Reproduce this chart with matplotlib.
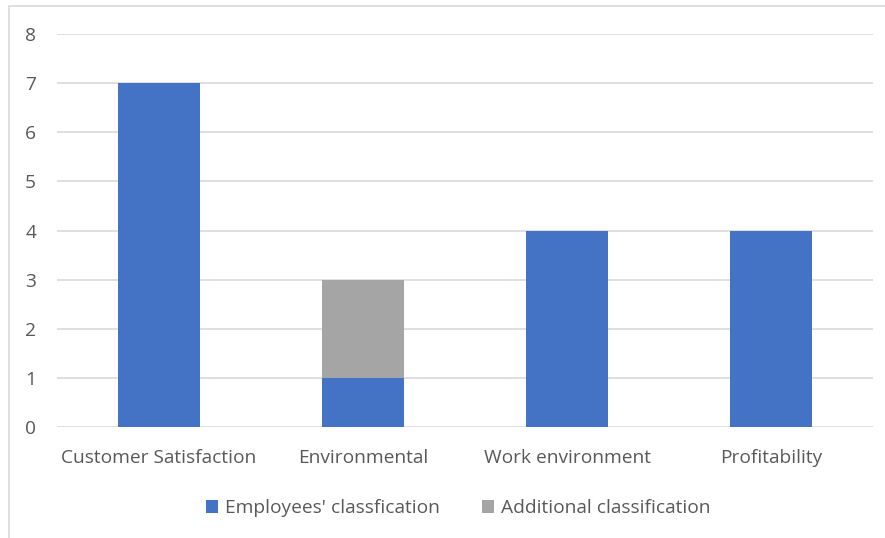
import matplotlib
matplotlib.use("Agg")
import matplotlib.pyplot as plt
from matplotlib.patches import Rectangle
import numpy as np

categories = ["Customer Satisfaction", "Environmental", "Work environment", "Profitability"]
employees = [7, 1, 4, 4]
additional = [0, 2, 0, 0]
yticks = [0, 1, 2, 3, 4, 5, 6, 7, 8]

BLUE = "#4472c4"
GREY = "#a5a5a5"
TXT = "#595959"

plt.rcParams["font.family"] = ["Open Sans", "DejaVu Sans"]

W, H = 885, 538
fig = plt.figure(figsize=(W / 100, H / 100), dpi=100)
fig.patches.append(Rectangle((9 / W, -0.1), 1.2, 1 - 6 / H + 0.1, transform=fig.transFigure,
                             fill=False, edgecolor="#d9d9d9", lw=1.2))
ax = fig.add_axes([57 / W, 1 - 427 / H, (873 - 57) / W, (427 - 34) / H])

x = np.arange(len(categories))
ax.bar(x, employees, width=0.4, color=BLUE, zorder=3, label="Employees' classfication")
ax.bar(x, additional, width=0.4, bottom=employees, color=GREY, zorder=3,
       label="Additional classification")

ax.set_xlim(-0.5, 3.5)
ax.set_ylim(0, 8)
ax.set_yticks(yticks)
ax.set_xticks(x)
ax.set_xticklabels(categories)
ax.yaxis.grid(True, color="#d9d9d9", lw=1.2, zorder=0)
for s in ax.spines.values():
    s.set_visible(False)
ax.tick_params(length=0, labelsize=13.8, colors=TXT)
ax.tick_params(axis="y", pad=15)
ax.tick_params(axis="x", pad=15.5)

ax.legend(loc="upper center", bbox_to_anchor=(0.492, -0.140), ncol=2, frameon=False,
          fontsize=13.8, labelcolor=TXT, handlelength=0.6, handleheight=0.6,
          handletextpad=0.4, columnspacing=2.2)

fig.savefig("out.png", dpi=100)
